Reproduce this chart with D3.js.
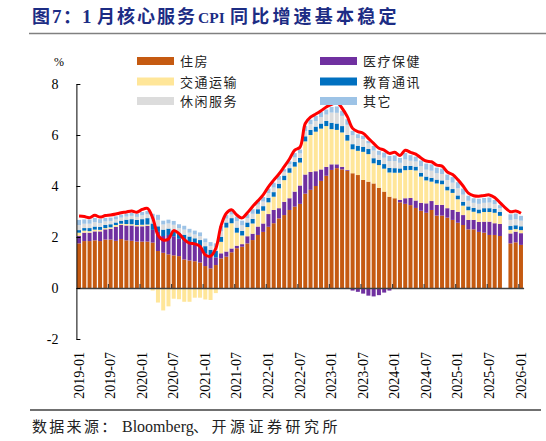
<!DOCTYPE html>
<html>
<head>
<meta charset="utf-8">
<script src="https://cdn.jsdelivr.net/npm/d3@7"></script>
<style>
  body { margin: 0; background: #fff; }
  #chart { width: 546px; height: 441px; }
</style>
</head>
<body>
<div id="chart"></div>
<script>
// series names (stack order, bottom to top)
const series_names = ["住房", "医疗保健", "交通运输", "教育通讯", "休闲服务", "其它"];
const series_colors = ["#c55a11", "#7030a0", "#ffe699", "#0070c0", "#dcdcdc", "#9dc3e6"];

// contributions to core services CPI yoy, %pt, 2019-01 .. 2026-01 (2025-10 missing)
const housing = [1.75,1.84,1.84,1.87,1.84,1.90,1.90,1.85,1.92,1.87,1.85,1.82,1.82,1.82,
  1.78,1.45,1.38,1.32,1.28,1.25,1.12,1.08,1.05,1.00,0.86,0.77,0.90,
  1.16,1.23,1.40,1.56,1.62,1.75,1.88,2.08,2.20,2.40,2.54,2.73,2.86,3.06,3.19,3.30,3.70,3.85,4.00,4.20,4.40,4.63,4.70,
  4.65,4.60,4.50,4.43,4.24,4.17,4.10,3.93,3.78,3.58,3.52,3.36,3.30,3.25,
  3.14,3.03,2.95,3.06,2.84,2.84,2.76,2.67,2.56,2.47,2.30,2.30,2.20,2.17,2.08,2.08,2.04,null,1.75,1.79,1.69];
const medical = [0.30,0.33,0.33,0.35,0.38,0.40,0.42,0.55,0.55,0.58,0.60,0.60,0.60,0.62,
  0.50,0.75,0.66,0.76,0.75,0.68,0.72,0.68,0.65,0.63,0.50,0.48,0.30,
  0.20,0.20,0.15,0.10,0.10,0.28,0.25,0.33,0.33,0.50,0.52,0.40,0.52,0.46,0.59,0.72,0.75,0.70,0.58,0.45,0.35,0.22,0.15,
  0.10,0.03,-0.10,-0.15,-0.22,-0.30,-0.33,-0.28,-0.18,-0.10,-0.03,0.10,0.22,0.28,
  0.29,0.31,0.37,0.35,0.42,0.42,0.37,0.39,0.43,0.39,0.37,0.37,0.39,0.43,0.52,0.46,0.47,null,0.39,0.42,0.46];
const transport = [0.12,0.08,0.06,0.07,0.06,0.05,0.06,0.07,0.05,0.06,0.05,0.05,0.06,0.05,
  -0.10,-0.57,-0.88,-0.72,-0.42,-0.44,-0.54,-0.54,-0.38,-0.38,-0.45,-0.47,-0.20,
  0.45,0.94,0.99,0.51,0.34,0.36,0.40,0.50,0.50,0.46,0.52,0.78,0.85,1.00,0.98,0.90,1.30,1.45,1.55,1.60,1.60,1.38,1.35,
  1.35,1.15,0.94,0.95,1.10,1.08,0.79,0.89,0.90,0.95,1.00,1.06,1.10,1.10,
  1.18,1.03,0.90,0.76,0.84,0.81,0.70,0.67,0.49,0.37,0.38,0.32,0.34,0.38,0.38,0.41,0.32,null,0.14,0.10,0.12];
const education = [0.10,0.10,0.12,0.12,0.12,0.12,0.12,0.10,0.12,0.17,0.20,0.20,0.22,0.25,
  0.25,0.22,0.25,0.25,0.25,0.22,0.25,0.26,0.25,0.25,0.28,0.25,0.25,
  0.20,0.20,0.20,0.20,0.18,0.18,0.18,0.18,0.18,0.18,0.18,0.18,0.18,0.18,0.18,0.18,0.20,0.20,0.20,0.20,0.20,0.25,0.25,
  0.25,0.22,0.20,0.20,0.20,0.20,0.20,0.20,0.18,0.18,0.18,0.17,0.17,0.16,
  0.15,0.15,0.15,0.15,0.15,0.15,0.15,0.15,0.15,0.15,0.15,0.15,0.15,0.15,0.15,0.15,0.15,null,0.15,0.15,0.15];
const leisure = [0.20,0.17,0.17,0.17,0.15,0.14,0.13,0.12,0.12,0.12,0.13,0.12,0.15,0.15,
  0.18,0.25,0.20,0.20,0.20,0.20,0.20,0.15,0.15,0.15,0.15,0.15,0.15,
  0.22,0.15,0.14,0.25,0.22,0.17,0.20,0.18,0.18,0.18,0.18,0.15,0.15,0.15,0.18,0.18,0.20,0.22,0.22,0.25,0.25,0.40,0.42,
  0.40,0.40,0.35,0.30,0.30,0.22,0.30,0.20,0.25,0.27,0.28,0.22,0.25,0.20,
  0.20,0.26,0.27,0.28,0.25,0.25,0.25,0.25,0.28,0.28,0.22,0.20,0.22,0.21,0.22,0.19,0.15,null,0.24,0.24,0.22];
const other = [0.20,0.17,0.17,0.17,0.15,0.14,0.13,0.12,0.12,0.12,0.12,0.12,0.13,0.13,
  0.20,0.20,0.15,0.15,0.15,0.15,0.15,0.15,0.15,0.15,0.15,0.15,0.15,
  0.20,0.14,0.14,0.18,0.18,0.16,0.18,0.17,0.18,0.18,0.19,0.15,0.10,0.12,0.17,0.15,0.20,0.18,0.20,0.20,0.20,0.22,0.25,
  0.20,0.22,0.17,0.15,0.13,0.10,0.18,0.16,0.20,0.20,0.22,0.19,0.26,0.22,
  0.19,0.22,0.24,0.25,0.22,0.21,0.22,0.22,0.24,0.24,0.20,0.18,0.20,0.19,0.20,0.16,0.12,null,0.22,0.22,0.19];
// core services CPI yoy, %
const core_services = [2.82,2.80,2.76,2.85,2.78,2.84,2.86,2.90,2.95,2.98,3.02,2.97,3.08,3.12,
  2.75,2.08,1.88,1.92,2.25,2.13,1.90,1.76,1.73,1.63,1.30,1.25,1.55,
  2.45,2.93,3.07,2.86,2.75,2.95,3.20,3.42,3.65,3.97,4.23,4.47,4.76,5.06,5.41,5.52,6.45,6.70,6.82,6.95,7.10,7.20,7.27,
  7.05,6.72,6.26,6.13,6.07,5.87,5.67,5.48,5.41,5.28,5.32,5.20,5.40,5.32,
  5.25,5.10,4.98,4.95,4.82,4.78,4.55,4.45,4.25,4.00,3.72,3.62,3.60,3.63,3.65,3.55,3.35,null,2.99,3.02,2.93];

const tick_labels = ["2019-01","2019-07","2020-01","2020-07","2021-01","2021-07","2022-01",
  "2022-07","2023-01","2023-07","2024-01","2024-07","2025-01","2025-07","2026-01"];
const y_ticks = [-2, 0, 2, 4, 6, 8];

const months = d3.utcMonth
  .range(new Date(Date.UTC(2019, 0, 1)), new Date(Date.UTC(2026, 1, 1)))
  .map(d3.utcFormat("%Y-%m"));

const all_series = [housing, medical, transport, education, leisure, other];
const table = months.map((m, i) => {
  const row = { month: m };
  series_names.forEach((k, j) => (row[k] = all_series[j][i]));
  return row;
});

const width = 546, height = 441;
const margin = { left: 76.4, right: 22.4, top: 84, bottom: 102 };
const serif = "'Liberation Serif', 'Times New Roman', serif";
const cjk = "'Noto Sans CJK SC', sans-serif";

const svg = d3.select("#chart").append("svg")
  .attr("width", width)
  .attr("height", height);

// title
const title = svg.append("text")
  .attr("y", 23)
  .attr("fill", "#1c2c84")
  .attr("font-weight", "bold")
  .attr("font-size", 18)
  .attr("font-family", cjk);
title.append("tspan").attr("x", 32).text("图");
title.append("tspan").attr("x", 52).attr("font-family", serif).attr("font-size", 19).text("7");
title.append("tspan").attr("x", 63).text("：");
title.append("tspan").attr("x", 82).attr("font-family", serif).attr("font-size", 19).text("1");
title.append("tspan").attr("x", 97).attr("letter-spacing", 2).text("月核心服务");
title.append("tspan").attr("x", 198).attr("font-family", serif).attr("font-size", 15.5).text("CPI");
title.append("tspan").attr("x", 230).attr("letter-spacing", 3.2).text("同比增速基本稳定");

svg.append("line")
  .attr("x1", 29).attr("x2", width)
  .attr("y1", 33.5).attr("y2", 33.5)
  .attr("stroke", "#808080").attr("stroke-width", 1.5);

// scales
const x = d3.scaleBand()
  .domain(months)
  .range([margin.left, width - margin.right])
  .paddingInner(0.24)
  .paddingOuter(0.12);

const y = d3.scaleLinear()
  .domain([-2, 8])
  .range([339, 84]);

// stacked bars
const stacked = d3.stack()
  .keys(series_names)
  .value((d, k) => d[k] ?? 0)
  .offset(d3.stackOffsetDiverging)(table);

svg.append("g")
  .selectAll("g")
  .data(stacked)
  .join("g")
  .attr("fill", (d, i) => series_colors[i])
  .selectAll("rect")
  .data((d) => d)
  .join("rect")
  .attr("x", (d) => x(d.data.month))
  .attr("width", x.bandwidth())
  .attr("y", (d) => y(Math.max(d[0], d[1])))
  .attr("height", (d) => Math.abs(y(d[0]) - y(d[1])));

// axes
const xb = d3.scaleLinear().domain([0, months.length]).range(x.range());

const x_axis = svg.append("g")
  .attr("transform", `translate(0, ${y(0)})`)
  .call(d3.axisBottom(xb)
    .tickValues(d3.range(6, months.length, 6))
    .tickSize(-4)
    .tickSizeOuter(0)
    .tickFormat(""));
x_axis.select(".domain").attr("stroke", "#404040").attr("stroke-width", 1.5);
x_axis.selectAll(".tick line").attr("stroke", "#404040").attr("stroke-width", 1.2);

const x_labels = svg.append("g")
  .attr("transform", "translate(0, 352)")
  .call(d3.axisBottom(x).tickValues(tick_labels).tickSize(0));
x_labels.select(".domain").remove();
x_labels.selectAll("text")
  .attr("transform", "rotate(-90)")
  .attr("x", 0)
  .attr("y", 0)
  .attr("dy", "0.33em")
  .attr("text-anchor", "end")
  .attr("font-family", serif)
  .attr("font-size", 14)
  .attr("fill", "#000");

const y_axis = svg.append("g")
  .attr("transform", `translate(${margin.left}, 0)`)
  .call(d3.axisLeft(y)
    .tickValues(y_ticks)
    .tickSize(-4)
    .tickSizeOuter(0)
    .tickPadding(18)
    .tickFormat((d) => String(d)));
y_axis.select(".domain").attr("stroke", "#000");
y_axis.selectAll("text")
  .attr("font-family", serif)
  .attr("font-size", 14)
  .attr("fill", "#000");

svg.append("text")
  .attr("x", 59).attr("y", 66)
  .attr("text-anchor", "middle")
  .attr("font-family", serif)
  .attr("font-size", 12)
  .text("%");

// core services line (connected across the missing month)
const line_data = months
  .map((m, i) => ({ month: m, v: core_services[i] }))
  .filter((d) => d.v != null);

svg.append("path")
  .datum(line_data)
  .attr("fill", "none")
  .attr("stroke", "#ff0000")
  .attr("stroke-width", 3)
  .attr("stroke-linejoin", "round")
  .attr("d", d3.line()
    .x((d) => x(d.month) + x.bandwidth() / 2)
    .y((d) => y(d.v))
    .curve(d3.curveCatmullRom.alpha(0.5)));

// legend
const legend_pos = [
  [137, 61], [320, 61],
  [137, 81.5], [320, 81.5],
  [137, 101], [320, 101],
];
const legend = svg.append("g")
  .selectAll("g")
  .data(series_names)
  .join("g")
  .attr("transform", (d, i) => `translate(${legend_pos[i][0]}, ${legend_pos[i][1]})`);
legend.append("rect")
  .attr("x", 0).attr("y", -4)
  .attr("width", 37).attr("height", 8)
  .attr("fill", (d, i) => series_colors[i]);
legend.append("text")
  .attr("x", 43).attr("y", 5)
  .attr("font-family", cjk)
  .attr("font-size", 13)
  .attr("letter-spacing", 1.5)
  .attr("fill", "#222")
  .text((d) => d);

// source
svg.append("line")
  .attr("x1", 30).attr("x2", 541)
  .attr("y1", 410).attr("y2", 410)
  .attr("stroke", "#404040").attr("stroke-width", 1.3);

const source = svg.append("text")
  .attr("y", 432)
  .attr("font-family", cjk)
  .attr("font-size", 15)
  .attr("fill", "#222");
source.append("tspan").attr("x", 32).attr("letter-spacing", 2.3).text("数据来源：");
source.append("tspan").attr("x", 122).attr("font-family", serif).attr("font-size", 16).text("Bloomberg");
source.append("tspan").attr("x", 193).attr("letter-spacing", 3.5).text("、开源证券研究所");
</script>
</body>
</html>
